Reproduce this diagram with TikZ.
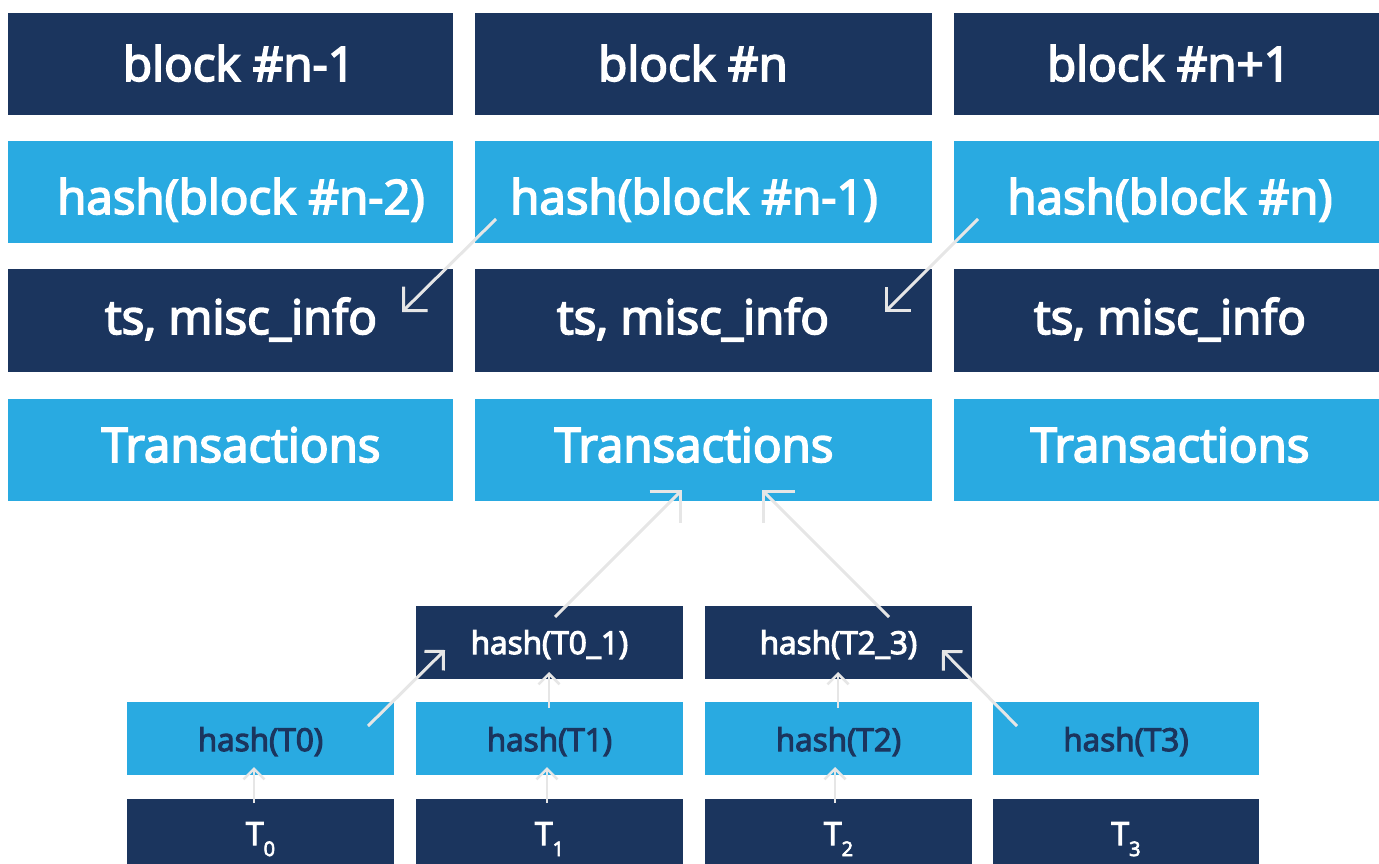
\documentclass[tikz,border=0pt]{standalone}
\usepackage{fontspec}
\setmainfont{Open Sans}
\newfontfamily\semi{Open Sans}[FakeBold=3.6]
\usetikzlibrary{arrows.meta}
\definecolor{dk}{HTML}{1B355E}
\definecolor{lt}{HTML}{29AAE1}
\definecolor{arr}{HTML}{E6E6E6}
\begin{document}
\begin{tikzpicture}[x=1pt,y=-1pt,
  boxd/.style={fill=dk,draw=none,inner sep=0,outer sep=0,anchor=north west},
  boxl/.style={fill=lt,draw=none,inner sep=0,outer sep=0,anchor=north west},
  big/.style={text=white,font=\semi\fontsize{47.5}{50}\selectfont,anchor=base,inner sep=0},
  small/.style={font=\semi\fontsize{31.5}{34}\selectfont,anchor=base,inner sep=0},
  conn/.style={draw=arr,line width=3pt},
  hA/.style={-{Straight Barb[angle=90:24pt,line width=3pt]}},
  hB/.style={-{Straight Barb[angle=90:31pt,line width=3pt]}},
  hC/.style={-{Straight Barb[angle=90:19pt,line width=3pt]}},
  hD/.style={-{Straight Barb[angle=90:15pt,line width=2.5pt]}},
]
\useasboundingbox (0,0) rectangle (1379,864);
% top rows
\foreach \c/\x/\w in {1/8/445,2/475/457,3/954/425}{
  \node[boxd,minimum width=\w pt,minimum height=102pt] (r1c\c) at (\x,13) {};
  \node[boxl,minimum width=\w pt,minimum height=102pt] (r2c\c) at (\x,141) {};
  \node[boxd,minimum width=\w pt,minimum height=103pt] (r3c\c) at (\x,269) {};
  \node[boxl,minimum width=\w pt,minimum height=102pt] (r4c\c) at (\x,399) {};
}
\node[big] (t11) at (239,81) {block \#n-1};
\node[big] (t12) at (693,81) {block \#n};
\node[big] (t13) at (1169,81) {block \#n+1};
\node[big] (t21) at (241,214) {hash(block \#n-2)};
\node[big] (t22) at (694,214) {hash(block \#n-1)};
\node[big] (t23) at (1170,214) {hash(block \#n)};
\node[big] (t31) at (241,334) {ts, misc\_info};
\node[big] (t32) at (693,334) {ts, misc\_info};
\node[big] (t33) at (1170,334) {ts, misc\_info};
\node[big] (t41) at (241,462) {Transactions};
\node[big] (t42) at (694,462) {Transactions};
\node[big] (t43) at (1170,462) {Transactions};
% merkle tree
\node[boxd,minimum width=267pt,minimum height=73pt] (h01) at (416,606) {};
\node[boxd,minimum width=267pt,minimum height=73pt] (h23) at (705,606) {};
\node[boxl,minimum width=267pt,minimum height=73pt] (hT0) at (127,702) {};
\node[boxl,minimum width=267pt,minimum height=73pt] (hT1) at (416,702) {};
\node[boxl,minimum width=267pt,minimum height=73pt] (hT2) at (705,702) {};
\node[boxl,minimum width=266pt,minimum height=73pt] (hT3) at (993,702) {};
\node[boxd,minimum width=267pt,minimum height=65pt] (T0) at (127,799) {};
\node[boxd,minimum width=267pt,minimum height=65pt] (T1) at (416,799) {};
\node[boxd,minimum width=267pt,minimum height=65pt] (T2) at (705,799) {};
\node[boxd,minimum width=266pt,minimum height=65pt] (T3) at (993,799) {};
\node[small,text=white] (l01) at (549.5,654) {hash(T0\_1)};
\node[small,text=white] (l23) at (838.5,654) {hash(T2\_3)};
\node[small,text=dk] (lT0) at (260.5,751) {hash(T0)};
\node[small,text=dk] (lT1) at (549.5,751) {hash(T1)};
\node[small,text=dk] (lT2) at (838.5,751) {hash(T2)};
\node[small,text=dk] (lT3) at (1126,751) {hash(T3)};
\foreach \n/\x in {0/260.5,1/549.5,2/838.5,3/1126}{
  \node[small,text=white,font=\semi\fontsize{32}{34}\selectfont] (lt\n) at (\x,845) {T\raisebox{-11pt}{\fontsize{20}{22}\selectfont\n}};
}
% arrow coordinates
\coordinate (a1s) at (496,219); \coordinate (a1e) at (402,312);
\coordinate (a2s) at (978,219); \coordinate (a2e) at (885,312);
\coordinate (a3s) at (555,617); \coordinate (a3e) at (682,490);
\coordinate (a4s) at (889,617); \coordinate (a4e) at (762,490);
\coordinate (a5s) at (368,726); \coordinate (a5e) at (445,650);
\coordinate (a6s) at (1017,726); \coordinate (a6e) at (942,650);
\coordinate (v1s) at (549,708); \coordinate (v1e) at (549,672);
\coordinate (v2s) at (838,708); \coordinate (v2e) at (838,672);
\coordinate (v3s) at (254,803); \coordinate (v3e) at (254,767);
\coordinate (v4s) at (547,803); \coordinate (v4e) at (547,767);
\coordinate (v5s) at (835,803); \coordinate (v5e) at (835,767);
\draw[conn,hA] (a1s) -- (a1e);
\draw[conn,hA] (a2s) -- (a2e);
\draw[conn,hB] (a3s) -- (a3e);
\draw[conn,hB] (a4s) -- (a4e);
\draw[conn,hC] (a5s) -- (a5e);
\draw[conn,hC] (a6s) -- (a6e);
\foreach \v in {v1,v2,v3,v4,v5}{
  \draw[conn,line width=2.5pt,hD] (\v s) -- (\v e);
}
\end{tikzpicture}
\end{document}
